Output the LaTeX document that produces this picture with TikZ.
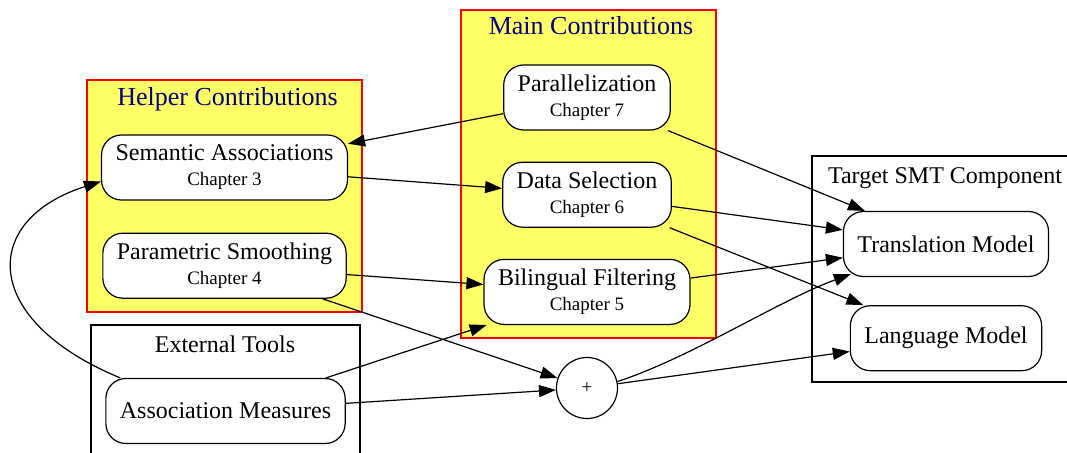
\documentclass[tikz,border=0pt]{standalone}
\usepackage{fontspec}
\setmainfont{Liberation Serif}
\usetikzlibrary{arrows.meta,positioning}
\definecolor{clusterYellow}{HTML}{FFFF66}
\definecolor{titleBlue}{HTML}{000080}
\newcommand{\chapfont}{\fontsize{19}{20}\selectfont}
\tikzset{
  comp/.style={draw, rounded corners=20pt, fill=white, line width=1.2pt, minimum height=65pt, inner xsep=14pt, align=center, font=\fontsize{24}{25}\selectfont},
  helpbox/.style={draw=red, fill=clusterYellow, line width=1.2pt, inner sep=0pt},
  toolbox/.style={draw, line width=1.2pt, inner sep=0pt},
  boxtitle/.style={font=\fontsize{24}{25}\selectfont, inner sep=0pt, anchor=base},
  bluetitle/.style={boxtitle, font=\fontsize{26}{27}\selectfont, text=titleBlue},
  plusnode/.style={draw, circle, minimum size=61pt, line width=1.2pt, font=\fontsize{19}{20}\selectfont},
  arr/.style={-{Triangle[length=17pt,width=12pt]}, line width=1.2pt}
}

\begin{document}
\begin{tikzpicture}[x=1pt, y=-1pt, node distance=31pt]
\useasboundingbox (0,0) rectangle (1067,452);
% clusters
\node[helpbox, minimum width=275pt, minimum height=232pt] (helper) at (224.5,196) {};
\node[helpbox, minimum width=255pt, minimum height=328pt] (main) at (588.5,174) {};
\node[toolbox, minimum width=269pt, minimum height=150pt] (tools) at (225.5,400) {};
\node[toolbox, minimum width=263pt, minimum height=226pt] (target) at (943.5,269) {};
\node[bluetitle] (helpertitle) at (227.5,105) {Helper Contributions};
\node[bluetitle] (maintitle) at (591,35) {Main Contributions};
\node[boxtitle] (toolstitle) at (225,352) {External Tools};
\node[boxtitle] (targettitle) at (945,183) {Target SMT Component};
% nodes
\node[comp] (sem) at (224.5,167.5) {Semantic Associations\\{\chapfont Chapter 3}};
\node[comp, below=32pt of sem] (ps) {Parametric Smoothing\\{\chapfont Chapter 4}};
\node[comp] (par) at (587,97.5) {Parallelization\\{\chapfont Chapter 7}};
\node[comp, below=of par] (ds) {Data Selection\\{\chapfont Chapter 6}};
\node[comp, below=of ds] (bf) {Bilingual Filtering\\{\chapfont Chapter 5}};
\node[comp] (am) at (225.5,411) {Association Measures};
\node[comp] (tm) at (946,244) {Translation Model};
\node[comp, below=28pt of tm] (lm) {Language Model};
\node[plusnode] (plus) at (587,388) {+};
% edges
\draw[arr] (par) -- (sem);
\draw[arr] (par) -- (tm);
\draw[arr] (sem) -- (ds);
\draw[arr] (ds) -- (tm);
\draw[arr] (ds) -- (lm);
\draw[arr] (ps) -- (bf);
\draw[arr] (ps) -- (plus);
\draw[arr] (bf) -- (tm);
\draw[arr] (am) -- (bf);
\draw[arr] (am) -- (plus);
\draw[arr] ([xshift=15pt]am.north west) .. controls (-20,320) and (-20,220) .. ([yshift=-14pt]sem.west);
\draw[arr] (plus.12) .. controls (690,358) and (780,300) .. ([xshift=8pt,yshift=3pt]tm.south west);
\draw[arr] (plus) -- (lm);
\end{tikzpicture}
\end{document}
